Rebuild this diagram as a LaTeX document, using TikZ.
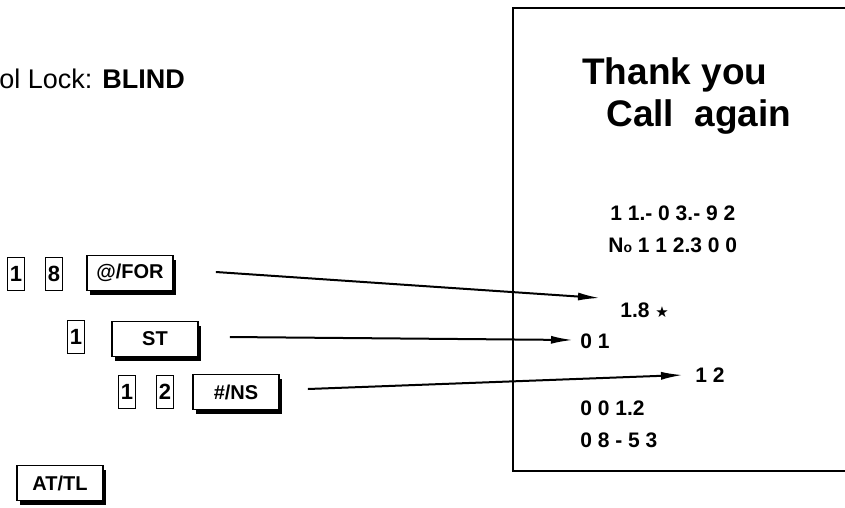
\documentclass[tikz,border=0pt]{standalone}
\usepackage{fontspec}
\setmainfont{Liberation Sans}
\newfontfamily\symfont{DejaVu Sans}
\usetikzlibrary{arrows.meta,shadows}
\tikzset{every picture/.style={line width=0.75pt}}

\begin{document}
\begin{tikzpicture}[x=1pt,y=-1pt,
    numkey/.style={draw,line width=1.8pt,inner sep=0pt,minimum width=17pt,minimum height=33pt,
      font=\fontsize{22}{22}\selectfont\bfseries},
    fnkey/.style={draw,fill=white,line width=1.8pt,inner sep=0pt,minimum width=86pt,minimum height=35pt,
      font=\fontsize{20}{20}\selectfont\bfseries,
      drop shadow={opacity=1,fill=black,shadow xshift=3pt,shadow yshift=-4pt}},
    slip/.style={anchor=base west,inner sep=0pt,font=\fontsize{21}{21}\selectfont\bfseries},
    thanks/.style={anchor=base west,inner sep=0pt,font=\fontsize{37}{37}\selectfont\bfseries},
    arr/.style={line width=2pt,-{Latex[length=22pt,width=8pt]}}]
    \useasboundingbox (0,0) rectangle (845,507);

    % heading
    \node[anchor=base west,inner sep=0pt,font=\fontsize{27}{27}\selectfont] (lock) at (-1,88) {ol Lock: \textbf{BLIND}};

    % key sequence
    \node[numkey] (k1) at (16,274) {1};
    \node[numkey] (k8) at (54,274) {8};
    \node[fnkey] (for) at (130,273) {@/FOR};
    \node[numkey] (m1) at (76,337) {1};
    \node[fnkey] (st) at (155,339) {ST};
    \node[numkey] (n1) at (127,392) {1};
    \node[numkey] (n2) at (165,392) {2};
    \node[fnkey] (ns) at (236,392) {\#/NS};
    \node[fnkey] (attl) at (60,483) {AT/TL};

    % receipt
    \draw[line width=2.4pt] (870,8) -| (513,471) -- (870,471);
    \node[thanks] (thank) at (582,84) {Thank you};
    \node[thanks] (again) at (606,126) {Call\ \ again};
    \node[slip] (date) at (610,220) {1 1.- 0 3.- 9 2};
    \node[slip] (no) at (608,252) {N{\fontsize{14}{14}\selectfont o} 1 1 2.3 0 0};
    \node[slip] (star) at (620,317) {1.8 {\symfont\fontsize{15}{15}\selectfont ★}};
    \node[slip] (cnt) at (580,348) {0 1};
    \node[slip] (qty) at (695,382) {1 2};
    \node[slip] (tot) at (580,415) {0 0 1.2};
    \node[slip] (time) at (580,447) {0 8 - 5 3};

    % arrows
    \draw[arr] ([xshift=42pt,yshift=1pt]for.east) -- ([xshift=-20pt,yshift=19pt]star.base west);
    \draw[arr] ([xshift=31pt,yshift=2pt]st.east) -- ([xshift=-7pt,yshift=8pt]cnt.base west);
    \draw[arr] ([xshift=28pt,yshift=3pt]ns.east) -- ([xshift=-12pt,yshift=7pt]qty.base west);
\end{tikzpicture}
\end{document}
